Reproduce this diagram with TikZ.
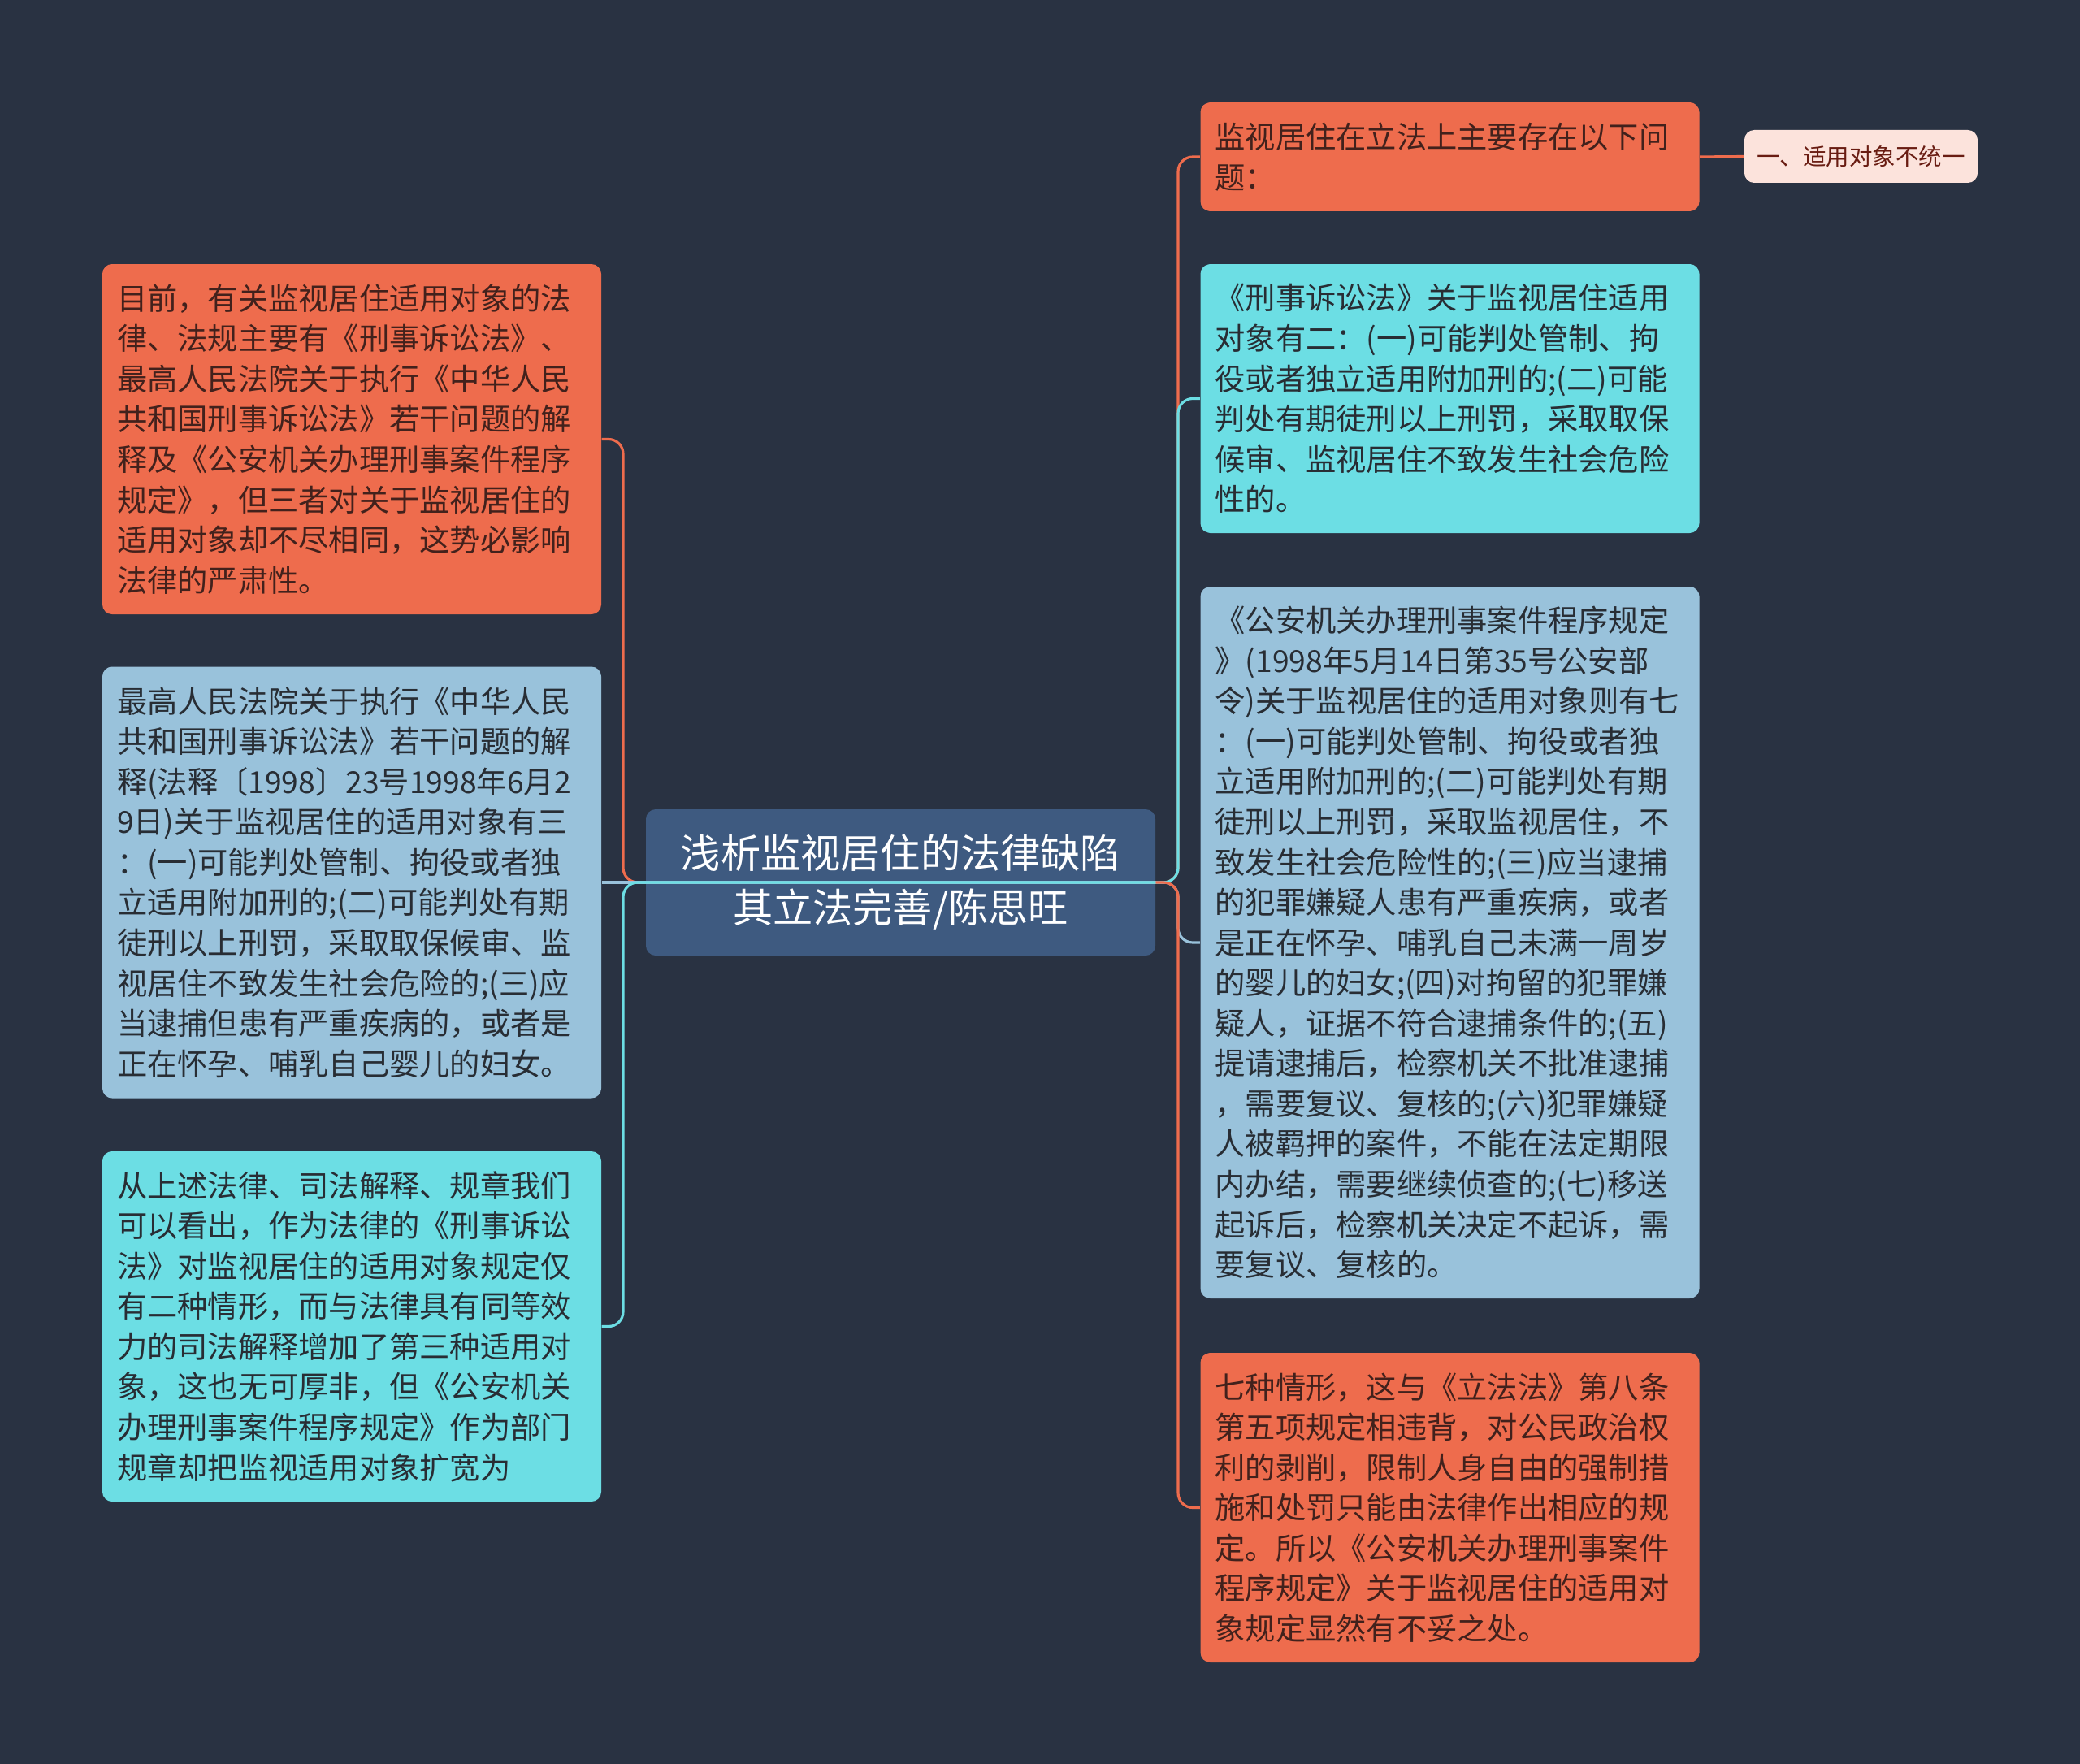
\documentclass[tikz,border=0pt]{standalone}
\usepackage{fontspec}
\setmainfont{Noto Sans CJK SC}
\usetikzlibrary{calc}
\definecolor{mapbg}{RGB}{41,50,66}
\definecolor{maporange}{RGB}{238,108,77}
\definecolor{mapcyan}{RGB}{108,222,228}
\definecolor{mapblue}{RGB}{153,194,219}
\definecolor{maproot}{RGB}{62,90,128}
\definecolor{mappink}{RGB}{252,227,220}
\definecolor{orangetext}{RGB}{66,33,28}
\definecolor{bluetext}{RGB}{40,45,52}
\definecolor{pinktext}{RGB}{105,28,18}
\tikzstyle{leaf}=[rounded corners=0.12cm,inner xsep=0.18cm,inner ysep=0pt,text width=5.78cm,align=left,font=\fontsize{10.6pt}{14.1pt}\selectfont]
\tikzstyle{orangebox}=[leaf,fill=maporange,text=orangetext]
\tikzstyle{cyanbox}=[leaf,fill=mapcyan,text=bluetext]
\tikzstyle{bluebox}=[leaf,fill=mapblue,text=bluetext]
\tikzstyle{orangeline}=[draw=maporange,line width=0.9pt,rounded corners=0.18cm]
\tikzstyle{cyanline}=[draw=mapcyan,line width=0.9pt,rounded corners=0.18cm]
\tikzstyle{blueline}=[draw=mapblue,line width=0.9pt,rounded corners=0.18cm]

\begin{document}
\begin{tikzpicture}
    \fill[mapbg] (0,0) rectangle (25.6,-21.71);
    \useasboundingbox (0,0) rectangle (25.6,-21.71);

    \node[fill=maproot,text=white,rounded corners=0.12cm,minimum width=6.27cm,minimum height=1.8cm,align=center,font=\fontsize{14pt}{19pt}\selectfont] (root) at (11.085,-10.86) {浅析监视居住的法律缺陷\\其立法完善/陈思旺};

    % left side
    \node[orangebox,minimum height=4.31cm] (l1) at (4.33,-5.405) {目前，有关监视居住适用对象的法\\律、法规主要有《刑事诉讼法》、\\最高人民法院关于执行《中华人民\\共和国刑事诉讼法》若干问题的解\\释及《公安机关办理刑事案件程序\\规定》，但三者对关于监视居住的\\适用对象却不尽相同，这势必影响\\法律的严肃性。};
    \node[bluebox,minimum height=5.31cm] (l2) at (4.33,-10.86) {最高人民法院关于执行《中华人民\\共和国刑事诉讼法》若干问题的解\\释(法释〔1998〕23号1998年6月2\\9日)关于监视居住的适用对象有三\\：(一)可能判处管制、拘役或者独\\立适用附加刑的;(二)可能判处有期\\徒刑以上刑罚，采取取保候审、监\\视居住不致发生社会危险的;(三)应\\当逮捕但患有严重疾病的，或者是\\正在怀孕、哺乳自己婴儿的妇女。};
    \node[cyanbox,minimum height=4.31cm] (l3) at (4.33,-16.325) {从上述法律、司法解释、规章我们\\可以看出，作为法律的《刑事诉讼\\法》对监视居住的适用对象规定仅\\有二种情形，而与法律具有同等效\\力的司法解释增加了第三种适用对\\象，这也无可厚非，但《公安机关\\办理刑事案件程序规定》作为部门\\规章却把监视适用对象扩宽为};

    % right side
    \node[orangebox,minimum height=1.34cm] (r1) at (17.845,-1.93) {监视居住在立法上主要存在以下问\\题：};
    \node[cyanbox,minimum height=3.31cm] (r2) at (17.845,-4.905) {《刑事诉讼法》关于监视居住适用\\对象有二：(一)可能判处管制、拘\\役或者独立适用附加刑的;(二)可能\\判处有期徒刑以上刑罚，采取取保\\候审、监视居住不致发生社会危险\\性的。};
    \node[bluebox,minimum height=8.76cm] (r3) at (17.845,-11.6) {《公安机关办理刑事案件程序规定\\》(1998年5月14日第35号公安部\\令)关于监视居住的适用对象则有七\\：(一)可能判处管制、拘役或者独\\立适用附加刑的;(二)可能判处有期\\徒刑以上刑罚，采取监视居住，不\\致发生社会危险性的;(三)应当逮捕\\的犯罪嫌疑人患有严重疾病，或者\\是正在怀孕、哺乳自己未满一周岁\\的婴儿的妇女;(四)对拘留的犯罪嫌\\疑人，证据不符合逮捕条件的;(五)\\提请逮捕后，检察机关不批准逮捕\\，需要复议、复核的;(六)犯罪嫌疑\\人被羁押的案件，不能在法定期限\\内办结，需要继续侦查的;(七)移送\\起诉后，检察机关决定不起诉，需\\要复议、复核的。};
    \node[orangebox,minimum height=3.81cm] (r4) at (17.845,-18.555) {七种情形，这与《立法法》第八条\\第五项规定相违背，对公民政治权\\利的剥削，限制人身自由的强制措\\施和处罚只能由法律作出相应的规\\定。所以《公安机关办理刑事案件\\程序规定》关于监视居住的适用对\\象规定显然有不妥之处。};
    \node[fill=mappink,text=pinktext,rounded corners=0.12cm,minimum width=2.87cm,minimum height=0.65cm,inner sep=0pt,font=\fontsize{8.1pt}{10pt}\selectfont] (tag) at (22.905,-1.925) {一、适用对象不统一};

    \coordinate (ltrunk) at (7.67,-10.86);
    \coordinate (rtrunk) at (14.5,-10.86);

    \draw[orangeline] (root.east) -- (ltrunk) |- (l1.east);
    \draw[blueline] (root.east) -- (l2.east);
    \draw[cyanline] (root.east) -- (ltrunk) |- (l3.east);
    \draw[orangeline] (root.east) -- (rtrunk) |- (r1.west);
    \draw[cyanline] (root.east) -- (rtrunk) |- (r2.west);
    \draw[blueline] (root.east) -- (rtrunk) |- (r3.west);
    \draw[orangeline] (root.east) -- (rtrunk) |- (r4.west);
    \draw[orangeline] (r1.east) -- (tag.west);
\end{tikzpicture}
\end{document}
